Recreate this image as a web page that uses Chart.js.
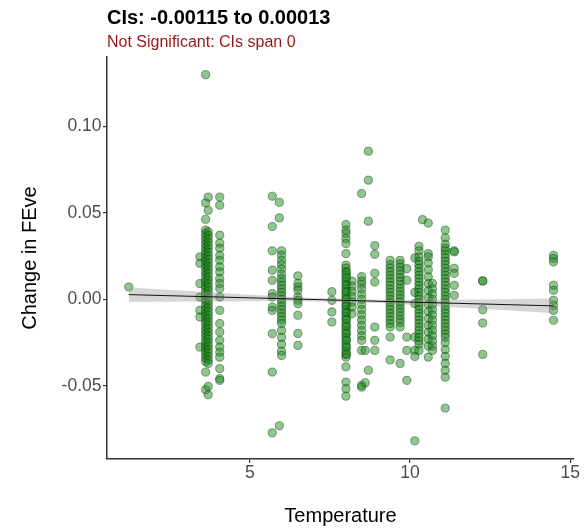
<!DOCTYPE html>
<html>
<head>
<meta charset="utf-8">
<title>Change in FEve vs Temperature</title>
<script src="https://cdn.jsdelivr.net/npm/chart.js@4.4.1/dist/chart.umd.min.js"></script>
<style>
  html, body { margin: 0; padding: 0; background: #fff; }
</style>
</head>
<body>
<canvas id="chart" width="586" height="531"></canvas>
<script>
// site temperatures (one column of points per temperature)
const siteTemps = [1.22, 3.44, 3.62, 3.70, 4.06, 5.70, 5.92, 5.99, 6.50, 7.56, 8.00, 8.02, 8.19, 8.49, 8.60,
    8.70, 8.90, 9.38, 9.69, 9.90, 10.15, 10.28, 10.39, 10.57, 10.70, 11.10, 11.38, 12.27, 14.48];

// change in FEve recorded at each site temperature
const feveChange = [
    [0.0071],
    [0.0245, 0.0208, 0.0091, 0.0013, -0.0064, -0.0102, -0.0276],
    [0.1297, 0.0557, 0.0462, 0.040, 0.038, 0.036, 0.034, 0.032, 0.030, 0.028, 0.026, 0.024, 0.022, 0.020, 0.018,
        0.016, 0.014, 0.012, 0.010, 0.008, 0.006, 0.004, 0.002, 0.000, -0.002, -0.004, -0.006, -0.008, -0.010,
        -0.012, -0.014, -0.016, -0.018, -0.020, -0.022, -0.024, -0.026, -0.028, -0.030, -0.032, -0.034, -0.036,
        -0.042, -0.0522],
    [0.059, 0.0514, 0.039, 0.037, 0.035, 0.033, 0.031, 0.029, 0.027, 0.025, 0.023, 0.021, 0.019, 0.017, 0.015,
        0.013, 0.011, 0.009, 0.007, 0.005, 0.003, 0.001, -0.001, -0.003, -0.005, -0.007, -0.009, -0.011, -0.013,
        -0.015, -0.017, -0.019, -0.021, -0.023, -0.025, -0.027, -0.029, -0.031, -0.033, -0.035, -0.037,
        -0.0503, -0.0551],
    [0.059, 0.0543, 0.037, 0.0324, 0.0295, 0.0254, 0.0225, 0.0187, 0.0158, 0.012, 0.0091, 0.0062, 0.0013,
        -0.0064, -0.014, -0.0189, -0.0237, -0.0276, -0.0305, -0.0334, -0.040, -0.0458, -0.0468],
    [0.0595, 0.042, 0.028, 0.0168, 0.011, 0.0033, 0.0013, -0.0045, -0.0064, -0.0198, -0.042, -0.0771],
    [0.056, 0.047, -0.0730],
    [0.028, 0.0255, 0.0225, 0.020, 0.0175, 0.0145, 0.012, 0.010, 0.008, 0.006, 0.004, 0.002, 0.000, -0.002,
        -0.004, -0.006, -0.008, -0.010, -0.012, -0.014, -0.018, -0.022, -0.026, -0.030, -0.0324],
    [0.0135, 0.0092, 0.0071, 0.0052, 0.0013, -0.0006, -0.0025, -0.0092, -0.0197, -0.0266],
    [0.0044, -0.0006, -0.0073, -0.0131],
    [0.0432, 0.040, 0.038, 0.0351, 0.0322, 0.0264, 0.0197, 0.018, 0.016, 0.014, 0.012, 0.010, 0.008, 0.006,
        0.004, 0.002, 0.000, -0.002, -0.004, -0.006, -0.008, -0.010, -0.012, -0.014, -0.016, -0.018, -0.020,
        -0.022, -0.024, -0.026, -0.028, -0.030, -0.032, -0.0334, -0.039, -0.0478, -0.0516, -0.0559],
    [0.0155, 0.0125, 0.0085, 0.0045, 0.0005, -0.0035, -0.0075, -0.0115, -0.0155, -0.0195, -0.0235, -0.0275, -0.0315],
    [0.0105, 0.0075, 0.0045, 0.0015, -0.0015, -0.0045, -0.0083],
    [0.0611, 0.0131, 0.0105, 0.0087, 0.006, 0.003, 0.000, -0.003, -0.006, -0.009, -0.012, -0.015, -0.018,
        -0.021, -0.0237, -0.0295, -0.0497, -0.0507],
    [-0.0295, -0.0482],
    [0.0855, 0.0688, 0.0451, -0.041],
    [0.031, 0.026, 0.015, 0.010, -0.016, -0.0237, -0.0295],
    [0.0225, 0.020, 0.018, 0.016, 0.014, 0.012, 0.010, 0.008, 0.006, 0.004, 0.002, 0.000, -0.002, -0.004,
        -0.006, -0.008, -0.010, -0.012, -0.014, -0.016, -0.0218, -0.035],
    [0.0225, 0.0205, 0.0185, 0.0165, 0.0145, 0.0125, 0.0105, 0.0085, 0.0065, 0.0045, 0.0025, 0.0005, -0.0015,
        -0.0035, -0.0055, -0.0075, -0.0095, -0.0115, -0.0135, -0.016, -0.037],
    [0.0177, 0.011, -0.0218, -0.0295, -0.0468],
    [0.0239, 0.004, -0.0025, -0.0218, -0.0295, -0.033, -0.0817],
    [0.0306, 0.028, 0.0245, 0.022, 0.020, 0.018, 0.016, 0.014, 0.012, 0.010, 0.008, 0.006, 0.004, 0.002,
        0.000, -0.002, -0.004, -0.006, -0.008, -0.010, -0.012, -0.014, -0.016, -0.018, -0.020, -0.022, -0.024,
        -0.026, -0.0295],
    [0.046],
    [0.044, 0.0264, 0.0245, 0.021, 0.017, 0.013, 0.009, 0.005, 0.001, -0.003, -0.007, -0.011, -0.015, -0.019,
        -0.023, -0.027, -0.0334],
    [0.0092, 0.006, 0.003, 0.000, -0.003, -0.006, -0.009, -0.012, -0.015, -0.018, -0.021, -0.024, -0.027, -0.0295],
    [0.040, 0.0355, 0.0318, 0.0295, 0.028, 0.026, 0.024, 0.022, 0.020, 0.018, 0.016, 0.014, 0.012, 0.010,
        0.008, 0.006, 0.004, 0.002, 0.000, -0.002, -0.004, -0.006, -0.008, -0.010, -0.012, -0.014, -0.016,
        -0.018, -0.020, -0.022, -0.025, -0.029, -0.033, -0.037, -0.041, -0.045, -0.0628],
    [0.028, 0.0274, 0.0179, 0.015, 0.0081, 0.0023],
    [0.0106, 0.0106, -0.006, -0.0137, -0.0318],
    [0.0254, 0.0235, 0.0216, 0.0081, 0.0052, -0.0006, -0.0035, -0.0064, -0.0121]
];

// linear fit and its confidence band
const fitX = [1.22, 14.48];
const fitY = [0.0027, -0.0038];
const bandX = [1.22, 2, 3, 4, 5, 6, 7, 8, 9, 10, 11, 12, 13, 14.48];
const bandUpper = [0.0069, 0.0060, 0.0049, 0.0038, 0.0027, 0.0017, 0.0008, 0.0002, -0.0002, -0.0003, -0.0002, -0.0001, 0.0001, 0.0005];
const bandLower = [-0.0015, -0.0014, -0.0013, -0.0012, -0.0011, -0.0011, -0.0012, -0.0016, -0.0022, -0.0031, -0.0042, -0.0053, -0.0063, -0.0081];

const xTicks = [5, 10, 15];
const yTicks = [-0.05, 0, 0.05, 0.10];

Chart.defaults.font.family = "'Liberation Sans', Arial, Helvetica, sans-serif";
Chart.defaults.color = '#4d4d4d';

const points = [];
siteTemps.forEach((t, i) => feveChange[i].forEach(v => points.push({ x: t, y: v })));
const pairs = (xs, ys) => xs.map((x, i) => ({ x: x, y: ys[i] }));

const axisGrid = { drawOnChartArea: false, drawTicks: true, tickLength: 4, color: '#333', lineWidth: 1.2 };
const axisBorder = { display: true, color: '#333', width: 1.5 };

new Chart(document.getElementById('chart'), {
    type: 'scatter',
    data: {
        datasets: [
            { type: 'line', data: pairs(fitX, fitY), showLine: true, borderColor: '#111', borderWidth: 1, pointRadius: 0, fill: false },
            { type: 'line', data: pairs(bandX, bandUpper), showLine: true, borderColor: 'transparent', borderWidth: 0, pointRadius: 0, backgroundColor: 'rgba(153,153,153,0.4)', fill: '+1' },
            { type: 'line', data: pairs(bandX, bandLower), showLine: true, borderColor: 'transparent', borderWidth: 0, pointRadius: 0, fill: false },
            { data: points, pointRadius: 4.1, borderWidth: 0.8, backgroundColor: 'rgba(34,139,34,0.5)', borderColor: 'rgba(0,50,0,0.55)' }
        ]
    },
    options: {
        responsive: false,
        animation: false,
        layout: { padding: { left: 0, right: 12, top: 0, bottom: 0 } },
        plugins: {
            legend: { display: false },
            tooltip: { enabled: false },
            title: {
                display: true, text: 'CIs: -0.00115 to 0.00013', align: 'start', fullSize: false,
                color: '#000', font: { size: 20, weight: 'bold' }, padding: { top: 6.5, bottom: 2.4 }
            },
            subtitle: {
                display: true, text: 'Not Significant: CIs span 0', align: 'start', fullSize: false,
                color: '#9a1515', font: { size: 16 }, padding: { top: 0, bottom: 4.9 }
            }
        },
        scales: {
            x: {
                type: 'linear', min: 0.54, max: 15.12,
                afterBuildTicks: s => { s.ticks = xTicks.map(v => ({ value: v })); },
                afterFit: s => { s.height = 72; },
                grid: axisGrid, border: axisBorder,
                ticks: { font: { size: 17.5 }, color: '#4d4d4d', padding: 0, maxRotation: 0 },
                title: { display: true, text: 'Temperature', color: '#000', font: { size: 20 }, padding: { top: 0, bottom: 3 } }
            },
            y: {
                type: 'linear', min: -0.0922, max: 0.1399,
                afterBuildTicks: s => { s.ticks = yTicks.map(v => ({ value: v })); },
                afterFit: s => { s.width = 107; },
                grid: axisGrid, border: axisBorder,
                ticks: { font: { size: 17.5 }, color: '#4d4d4d', padding: 1.5, callback: v => v.toFixed(2) },
                title: { display: true, text: 'Change in FEve', color: '#000', font: { size: 20 }, padding: { top: 18, bottom: 0 } }
            }
        }
    }
});
</script>
</body>
</html>
